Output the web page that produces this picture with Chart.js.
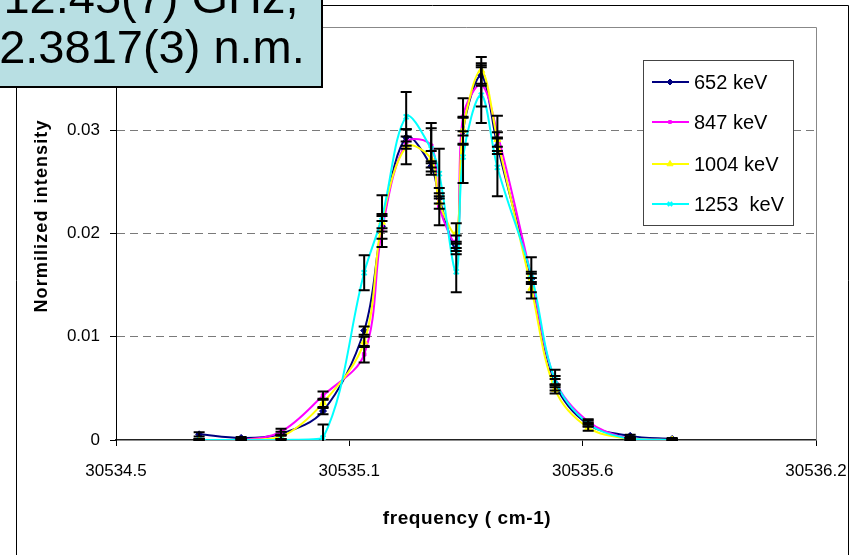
<!DOCTYPE html>
<html>
<head>
<meta charset="utf-8">
<script src="https://cdn.jsdelivr.net/npm/chart.js@4.4.0/dist/chart.umd.min.js"></script>
<style>
  html, body { margin: 0; background: #fff; }
  #wrap { width: 855px; height: 555px; position: relative; }
</style>
</head>
<body>
<div id="wrap"><canvas id="chart" width="855" height="555"></canvas></div>
<script>
// frequency points (cm-1)
const freq = [30534.696, 30534.795, 30534.889, 30534.988, 30535.085, 30535.127, 30535.184, 30535.243, 30535.262,
              30535.302, 30535.318, 30535.361, 30535.399, 30535.479, 30535.535, 30535.613, 30535.712, 30535.811];

const seriesLabels = ["652 keV", "847 keV", "1004 keV", "1253  keV"];

const kev652  = [0.00055, 0.0002, 0.0006, 0.0028, 0.0106, 0.0207, 0.0293, 0.0265, 0.0234, 0.0186, 0.0299, 0.0353, 0.0285, 0.0156, 0.0055, 0.0015, 0.0004, 0.0001];
const kev847  = [0, 0, 0.0008, 0.0043, 0.0083, 0.0203, 0.0288, 0.0285, 0.0226, 0.0192, 0.0313, 0.0344, 0.0297, 0.0158, 0.0058, 0.0018, 0.0001, 0];
const kev1004 = [0, 0, 0.0003, 0.0036, 0.0095, 0.0211, 0.0284, 0.0272, 0.0230, 0.0200, 0.0300, 0.0358, 0.0291, 0.0147, 0.0049, 0.0012, 0.0001, 0];
const kev1253 = [0, 0, 0, 0.0002, 0.0162, 0.0216, 0.0313, 0.0282, 0.0258, 0.0163, 0.0274, 0.0334, 0.0264, 0.0160, 0.0058, 0.0016, 0.0001, 0];

// error bar half-lengths
const err652  = [0.0002, 0.0001, 0.0002, 0.0003, 0.0004, 0.0005, 0.0008, 0.0005, 0.0005, 0.0006, 0.0013, 0.0010, 0.0008, 0.0005, 0.0004, 0.0002, 0.0001, 0.0001];
const err847  = [0.0001, 0.0001, 0.0003, 0.0004, 0.0008, 0.0016, 0.0006, 0.0017, 0.0018, 0.0006, 0.0018, 0.0021, 0.0017, 0.0005, 0.0004, 0.0002, 0.0001, 0.0001];
const err1004 = [0.0001, 0.0001, 0.0002, 0.0004, 0.0005, 0.0006, 0.0017, 0.0008, 0.0006, 0.0010, 0.0013, 0.0013, 0.0007, 0.0010, 0.0004, 0.0003, 0.0001, 0.0001];
const err1253 = [0.0001, 0.0001, 0.0001, 0.0013, 0.0017, 0.0021, 0.0024, 0.0025, 0.0024, 0.0020, 0.0025, 0.0027, 0.0028, 0.0017, 0.0010, 0.0003, 0.0001, 0.0001];

const xTickValues = [30534.5, 30535.05, 30535.6, 30536.15];
const xTickLabels = ["30534.5", "30535.1", "30535.6", "30536.2"];
const yTickLabels = ["0", "0.01", "0.02", "0.03", "0.04"];

const noteLines = ["12.45(7) GHz,", "2.3817(3) n.m."];

const FONT = "'Liberation Sans', Arial, Helvetica, sans-serif";

const colors = ["#000080", "#ff00ff", "#ffff00", "#00ffff"];
const styles = ["rectRot", "rect", "triangle", "crossRot"];
const radii = [3.5, 2.5, 4, 3.5];
const values = [kev652, kev847, kev1004, kev1253];
const errors = [err652, err847, err1004, err1253];

const datasets = values.map((vals, i) => ({
  label: seriesLabels[i],
  data: vals.map((v, j) => ({ x: freq[j], y: v })),
  borderColor: colors[i],
  backgroundColor: colors[i],
  borderWidth: 2,
  pointStyle: styles[i],
  pointRadius: radii[i],
  pointBorderWidth: i === 3 ? 2 : 1,
  pointBackgroundColor: colors[i],
  pointBorderColor: colors[i],
  tension: 0.35,
  order: 3 - i
}));

const errorBars = {
  id: "errorBars",
  afterDatasetsDraw(chart) {
    const { ctx, chartArea: a, scales: { x, y } } = chart;
    ctx.save();
    ctx.beginPath();
    ctx.rect(a.left, a.top, a.right - a.left, a.bottom - a.top + 1);
    ctx.clip();
    ctx.strokeStyle = "#000";
    ctx.lineWidth = 2;
    errors.forEach((errs, i) => {
      errs.forEach((e, j) => {
        const px = x.getPixelForValue(freq[j]);
        const top = y.getPixelForValue(values[i][j] + e);
        const bot = y.getPixelForValue(values[i][j] - e);
        ctx.beginPath();
        ctx.moveTo(px, top); ctx.lineTo(px, bot);
        ctx.moveTo(px - 5.5, top); ctx.lineTo(px + 5.5, top);
        ctx.moveTo(px - 5.5, bot); ctx.lineTo(px + 5.5, bot);
        ctx.stroke();
      });
    });
    ctx.restore();
  }
};

const decorations = {
  id: "decorations",
  afterDraw(chart) {
    const { ctx, chartArea: a } = chart;
    ctx.save();

    // plot area border (top, right)
    ctx.strokeStyle = "#888";
    ctx.lineWidth = 1;
    ctx.beginPath();
    ctx.moveTo(a.left, a.top + 0.5); ctx.lineTo(a.right + 0.5, a.top + 0.5); ctx.lineTo(a.right + 0.5, a.bottom);
    ctx.stroke();

    // chart outer border
    ctx.strokeStyle = "#000";
    ctx.beginPath();
    ctx.moveTo(16.5, 560); ctx.lineTo(16.5, 5.5); ctx.lineTo(848.5, 5.5); ctx.lineTo(848.5, 560);
    ctx.stroke();

    // axis titles
    ctx.fillStyle = "#000";
    ctx.font = "bold 19px " + FONT;
    ctx.textAlign = "center";
    ctx.textBaseline = "alphabetic";
    ctx.letterSpacing = "0.6px";
    ctx.fillText("frequency ( cm-1)", 467, 524);
    ctx.save();
    ctx.translate(47, 216);
    ctx.rotate(-Math.PI / 2);
    ctx.letterSpacing = "1.1px";
    ctx.font = "bold 18px " + FONT;
    ctx.fillText("Normilized intensity", 0, 0);
    ctx.restore();
    ctx.letterSpacing = "0px";

    // legend
    ctx.fillStyle = "#fff";
    ctx.fillRect(643, 60, 150, 165);
    ctx.strokeStyle = "#444";
    ctx.strokeRect(643.5, 60.5, 150, 165);
    const rows = [82, 122, 164, 204];
    ctx.font = "20px " + FONT;
    ctx.textAlign = "left";
    ctx.textBaseline = "middle";
    seriesLabels.forEach((lab, i) => {
      const yy = rows[i];
      ctx.strokeStyle = colors[i];
      ctx.lineWidth = 2;
      ctx.beginPath();
      ctx.moveTo(652, yy); ctx.lineTo(689, yy);
      ctx.stroke();
      if (Chart.helpers && Chart.helpers.drawPoint) {
        ctx.fillStyle = colors[i];
        ctx.lineWidth = i === 3 ? 2 : 1;
        Chart.helpers.drawPoint(ctx, { pointStyle: styles[i], radius: radii[i] - 0.5, borderWidth: 1, rotation: 0 }, 670, yy);
      }
      ctx.fillStyle = "#000";
      ctx.fillText(lab, 694, yy + 1);
    });

    // note box
    ctx.fillStyle = "#b8dfe3";
    ctx.fillRect(-5, -5, 327, 92);
    ctx.strokeStyle = "#000";
    ctx.lineWidth = 2;
    ctx.strokeRect(-5, -5, 327, 92);
    ctx.fillStyle = "#000";
    ctx.font = "47px " + FONT;
    ctx.textAlign = "center";
    ctx.textBaseline = "alphabetic";
    ctx.fillText(noteLines[0], 151, 13);
    ctx.fillText(noteLines[1], 152, 63);

    ctx.restore();
  }
};

new Chart(document.getElementById("chart"), {
  type: "line",
  data: { datasets },
  options: {
    responsive: false,
    animation: false,
    events: [],
    layout: { padding: { left: 0, top: 27, right: 39, bottom: 0 } },
    plugins: { legend: { display: false }, tooltip: { enabled: false } },
    scales: {
      x: {
        type: "linear",
        min: 30534.5,
        max: 30536.15,
        afterBuildTicks: s => { s.ticks = xTickValues.map(v => ({ value: v })); },
        afterFit: s => { s.height = 115; },
        ticks: {
          autoSkip: false,
          maxRotation: 0,
          padding: 8,
          color: "#000",
          font: { family: FONT, size: 17, lineHeight: 2.0 },
          callback: (v, i) => xTickLabels[i]
        },
        grid: { drawOnChartArea: false, drawTicks: true, tickLength: 6, tickColor: "#000" },
        border: { color: "#222", width: 1.5 }
      },
      y: {
        min: 0,
        max: 0.04,
        afterBuildTicks: s => { s.ticks = yTickLabels.map((t, i) => ({ value: i * 0.01 })); },
        afterFit: s => { s.width = 116; },
        ticks: {
          padding: 10,
          color: "#000",
          font: { family: FONT, size: 17 },
          callback: (v, i) => yTickLabels[i]
        },
        grid: {
          color: c => (c.tick && c.tick.value === 0) ? "rgba(0,0,0,0)" : "#7a7a7a",
          lineWidth: 1,
          tickLength: 6,
          tickColor: "#000",
          tickBorderDash: []
        },
        border: { color: "#000", width: 1, dash: [8, 5] }
      }
    }
  },
  plugins: [errorBars, decorations]
});
</script>
</body>
</html>
